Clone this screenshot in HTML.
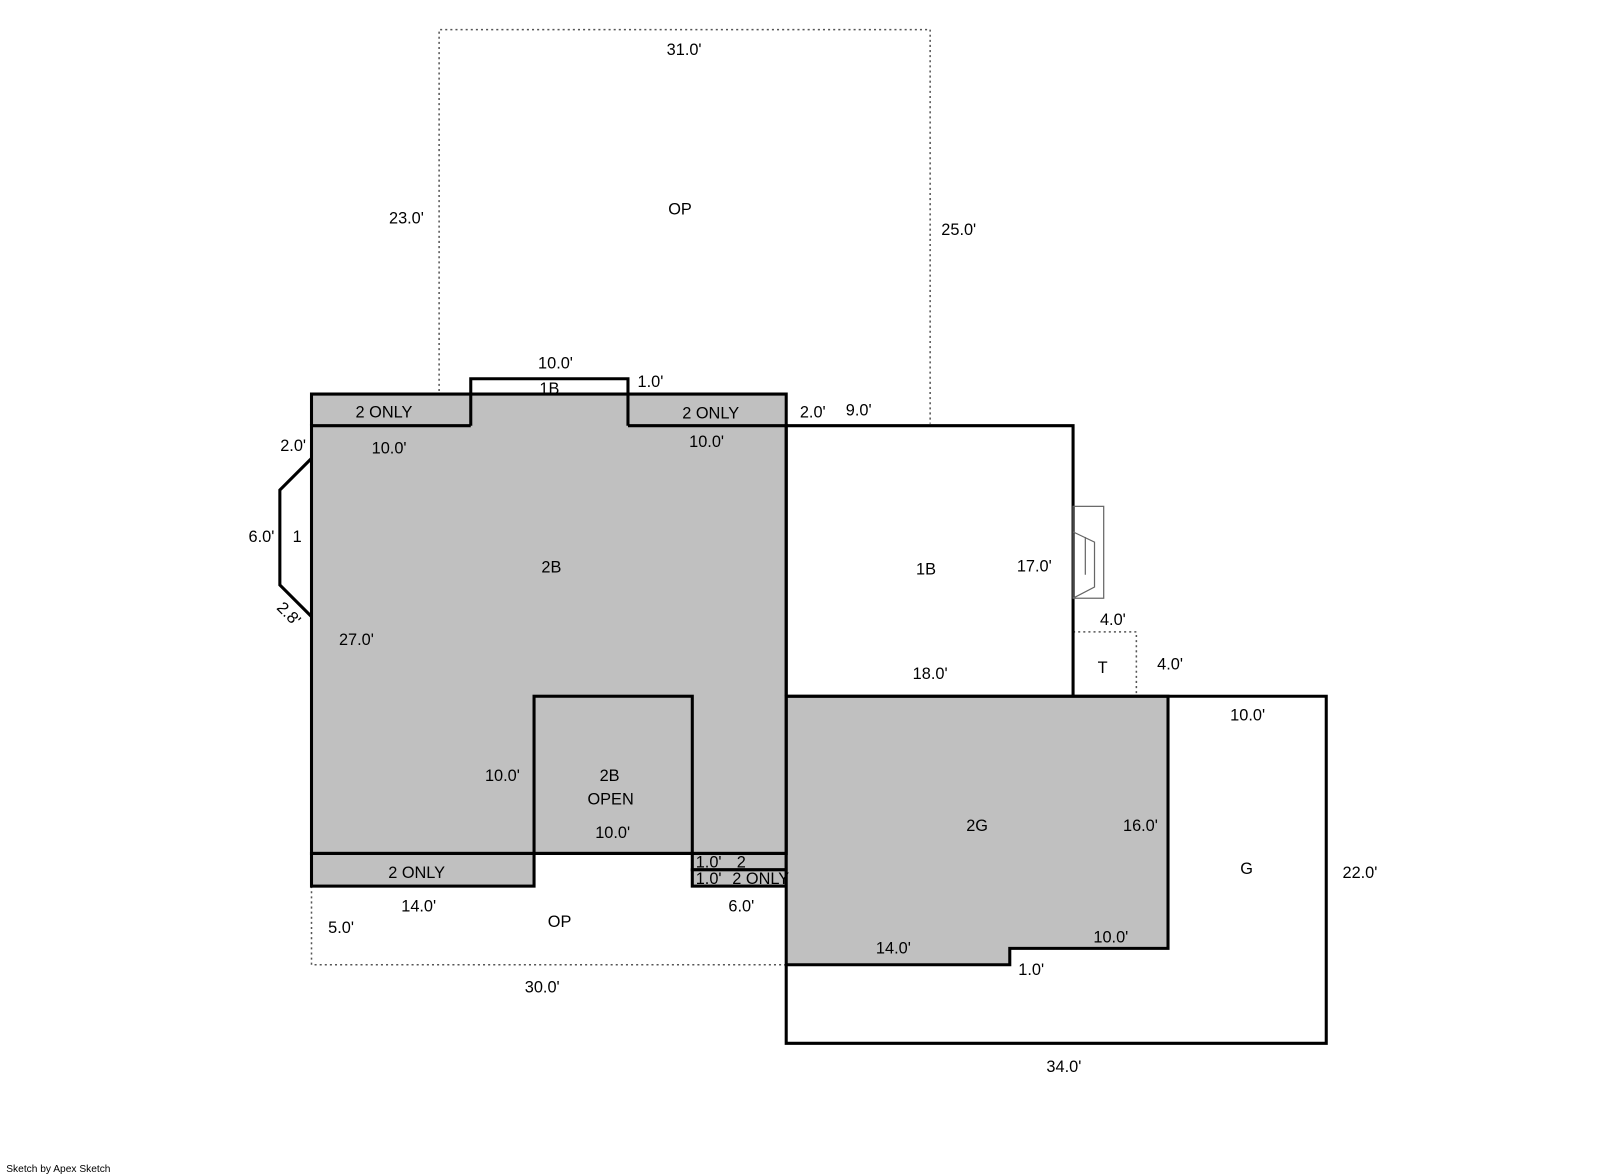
<!DOCTYPE html>
<html><head><style>body{margin:0;background:#fff}svg{display:block}text{font-family:"Liberation Sans",sans-serif;font-size:16px;fill:#000}</style></head><body>
<svg width="1601" height="1174" viewBox="0 0 1568 1150" xmlns="http://www.w3.org/2000/svg">
<g fill="none" stroke="#555" stroke-width="1.5" stroke-dasharray="2,3">
<path d="M430,413 V29 H911 V415"/>
<path d="M305,868 V945 H770"/>
<path d="M1051,619 H1113 V682"/>
</g>
<rect x="305" y="386" width="465" height="450" fill="#c0c0c0"/>
<g stroke="#000" stroke-width="3" fill="#fff">
<polyline points="305,449 274,480 274,573 305,604"/>
<polyline points="770,682 770,417 1051,417 1051,682"/>
</g>
<g stroke="#000" stroke-width="3" fill="#c0c0c0">
<rect x="523" y="682" width="155" height="154"/>
<rect x="305" y="836" width="218" height="32"/>
<rect x="678" y="836" width="92" height="16"/>
<rect x="678" y="852" width="92" height="16"/>
<polygon points="770,682 1144,682 1144,929 989,929 989,945 770,945"/>
</g>
<g stroke="#000" stroke-width="3" fill="none">
<polyline points="1144,682 1299,682 1299,1022 770,1022 770,945"/>
<path d="M461,417 H305 V836 H770 V417 H615"/>
<path d="M305,417 V386 H461 V417 M461,386 V371 H615 V417 M615,386 H770 V417"/>
<line x1="461" y1="386" x2="615" y2="386"/>
<path d="M770,682 H1144"/>
</g>
<g stroke="#666" stroke-width="1.2" fill="none">
<rect x="1051" y="496" width="30" height="90"/>
<polyline points="1051,521 1072,531 1072,575 1051,586"/>
<line x1="1063" y1="526" x2="1063" y2="563"/>
</g>
<g text-anchor="middle">
<text x="670" y="54">31.0'</text>
<text x="398" y="219">23.0'</text>
<text x="666" y="210">OP</text>
<text x="939" y="230">25.0'</text>
<text x="544" y="361">10.0'</text>
<text x="538" y="386">1B</text>
<text x="637" y="379">1.0'</text>
<text x="376" y="409">2 ONLY</text>
<text x="696" y="410">2 ONLY</text>
<text x="796" y="409">2.0'</text>
<text x="841" y="407">9.0'</text>
<text x="287" y="442">2.0'</text>
<text x="381" y="444">10.0'</text>
<text x="692" y="438">10.0'</text>
<text x="256" y="531">6.0'</text>
<text x="291" y="531">1</text>
<text x="540" y="561">2B</text>
<text x="907" y="563">1B</text>
<text x="1013" y="560">17.0'</text>
<text x="279" y="605" transform="rotate(45 279 605)">2.8'</text>
<text x="349" y="632">27.0'</text>
<text x="1090" y="612">4.0'</text>
<text x="1080" y="659">T</text>
<text x="1146" y="656">4.0'</text>
<text x="911" y="665">18.0'</text>
<text x="1222" y="706">10.0'</text>
<text x="492" y="765">10.0'</text>
<text x="597" y="765">2B</text>
<text x="598" y="788">OPEN</text>
<text x="957" y="814">2G</text>
<text x="1117" y="814">16.0'</text>
<text x="600" y="821">10.0'</text>
<text x="694" y="850">1.0'</text>
<text x="726" y="850">2</text>
<text x="694" y="866">1.0'</text>
<text x="745" y="866">2 ONLY</text>
<text x="408" y="860">2 ONLY</text>
<text x="1221" y="856">G</text>
<text x="1332" y="860">22.0'</text>
<text x="410" y="893">14.0'</text>
<text x="726" y="893">6.0'</text>
<text x="548" y="908">OP</text>
<text x="334" y="914">5.0'</text>
<text x="1088" y="923">10.0'</text>
<text x="875" y="934">14.0'</text>
<text x="1010" y="955">1.0'</text>
<text x="531" y="972">30.0'</text>
<text x="1042" y="1050">34.0'</text>
</g>
<text x="6" y="1148" style="font-size:10px">Sketch by Apex Sketch</text>
</svg>
</body></html>
